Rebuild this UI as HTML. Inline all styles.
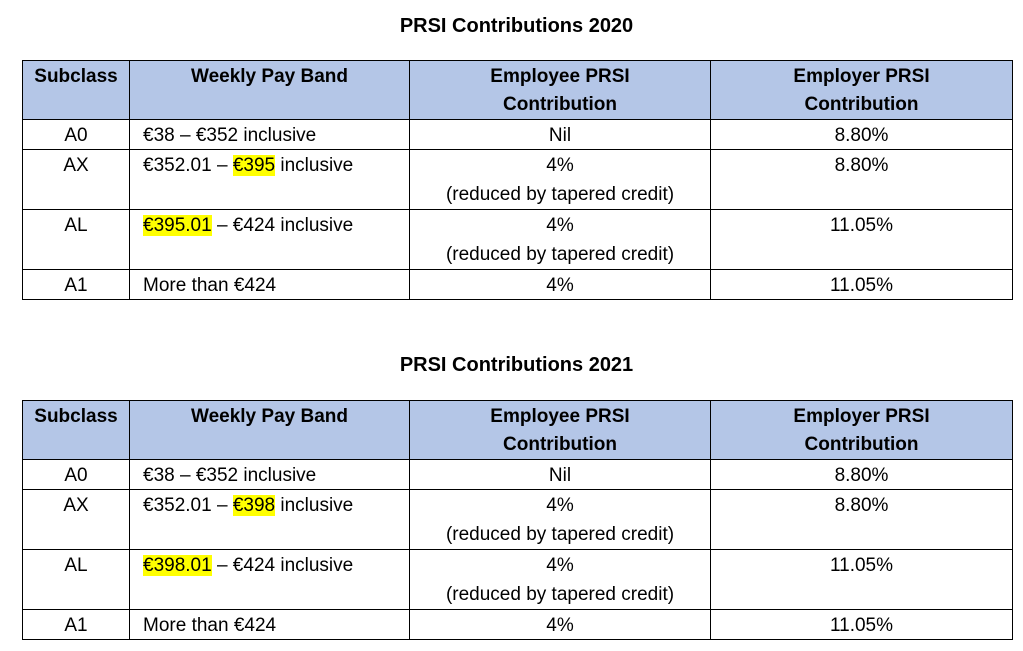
<!DOCTYPE html>
<html><head><meta charset="utf-8"><style>
body{margin:0;background:#fff;width:1023px;height:651px;position:relative;font-family:"Liberation Sans",Arial,sans-serif;color:#000}
.t{position:absolute;left:0;width:1033px;text-align:center;font-weight:bold;font-size:20px}
table{position:absolute;left:22px;border-collapse:collapse;table-layout:fixed;width:990px;font-size:19px}
td{border:1px solid #000;padding:2px 0 0 0;vertical-align:top;text-align:center;overflow:hidden;white-space:nowrap}
tr.h td{background:#b4c6e7;font-weight:bold;height:56px;line-height:28px}
tr.r1 td{height:27px;line-height:27px}
tr.r2 td{height:57px;line-height:28.5px}
td.l{text-align:left;padding-left:13px}
.y{background:#ffff00}
</style></head><body>
<div class="t" style="top:15px">PRSI Contributions 2020</div>
<table style="top:60px">
<colgroup><col style="width:107px"><col style="width:280px"><col style="width:301px"><col style="width:302px"></colgroup>
<tr class="h"><td>Subclass</td><td>Weekly Pay Band</td><td>Employee PRSI<br>Contribution</td><td>Employer PRSI<br>Contribution</td></tr>
<tr class="r1"><td>A0</td><td class="l">€38 – €352 inclusive</td><td>Nil</td><td>8.80%</td></tr>
<tr class="r2"><td>AX</td><td class="l">€352.01 – <span class="y">€395</span> inclusive</td><td>4%<br>(reduced by tapered credit)</td><td>8.80%</td></tr>
<tr class="r2"><td>AL</td><td class="l"><span class="y">€395.01</span> – €424 inclusive</td><td>4%<br>(reduced by tapered credit)</td><td>11.05%</td></tr>
<tr class="r1"><td>A1</td><td class="l">More than €424</td><td>4%</td><td>11.05%</td></tr>
</table>
<div class="t" style="top:354px">PRSI Contributions 2021</div>
<table style="top:400px">
<colgroup><col style="width:107px"><col style="width:280px"><col style="width:301px"><col style="width:302px"></colgroup>
<tr class="h"><td>Subclass</td><td>Weekly Pay Band</td><td>Employee PRSI<br>Contribution</td><td>Employer PRSI<br>Contribution</td></tr>
<tr class="r1"><td>A0</td><td class="l">€38 – €352 inclusive</td><td>Nil</td><td>8.80%</td></tr>
<tr class="r2"><td>AX</td><td class="l">€352.01 – <span class="y">€398</span> inclusive</td><td>4%<br>(reduced by tapered credit)</td><td>8.80%</td></tr>
<tr class="r2"><td>AL</td><td class="l"><span class="y">€398.01</span> – €424 inclusive</td><td>4%<br>(reduced by tapered credit)</td><td>11.05%</td></tr>
<tr class="r1"><td>A1</td><td class="l">More than €424</td><td>4%</td><td>11.05%</td></tr>
</table>
</body></html>
